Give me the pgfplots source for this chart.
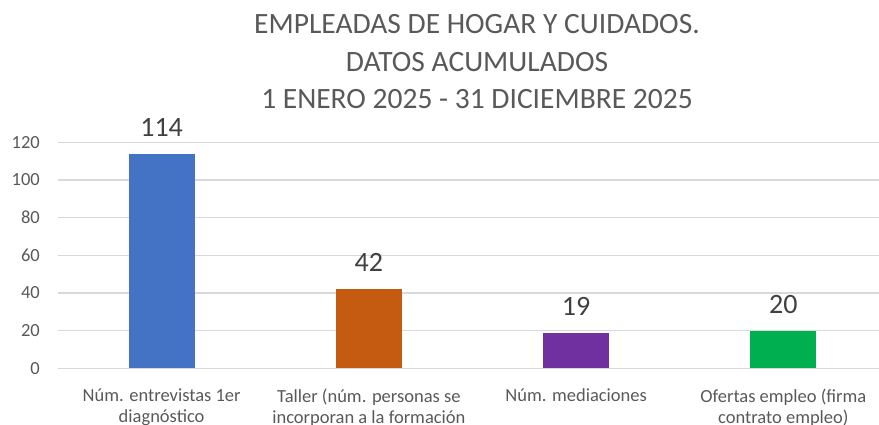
\documentclass[border=0pt]{standalone}
\usepackage{fontspec}
\setmainfont{Carlito}
\usepackage{pgfplots}
\pgfplotsset{compat=1.18}
\definecolor{cblue}{HTML}{4472C4}
\definecolor{corange}{HTML}{C55A11}
\definecolor{cpurple}{HTML}{7030A0}
\definecolor{cgreen}{HTML}{00B050}
\definecolor{tgray}{HTML}{595959}
\definecolor{lgray}{HTML}{404040}
\definecolor{gridgray}{HTML}{D9D9D9}
\begin{document}
\begin{tikzpicture}
\useasboundingbox (0,0) rectangle (879bp,425bp);
\begin{scope}[every node/.style={font=\fontsize{29.5bp}{36bp}\selectfont, text=tgray, anchor=base, inner sep=0pt}]
\node at (477bp,391bp) {EMPLEADAS DE HOGAR Y CUIDADOS.};
\node at (477bp,353.3bp) {DATOS ACUMULADOS};
\node at (477bp,316.7bp) {1 ENERO 2025 - 31 DICIEMBRE 2025};
\end{scope}
\begin{axis}[
  at={(58bp,56.7bp)}, anchor=south west,
  scale only axis, width=829bp, height=226bp,
  xmin=-0.5, xmax=3.5, ymin=0, ymax=120,
  ytick={0,20,...,120},
  xtick={0,1,2,3},
  xticklabels={{Núm. entrevistas 1er\\diagnóstico},{Taller (núm. personas se\\incorporan a la formación},{Núm. mediaciones},{Ofertas empleo (firma\\contrato empleo)}},
  /pgf/number format/assume math mode=true,
  axis line style={draw=none},
  tick style={draw=none},
  ymajorgrids,
  major grid style={draw=gridgray, line width=1.3bp},
  yticklabel style={font=\fontsize{18.5bp}{22bp}\selectfont, text=tgray, anchor=east, inner sep=0pt, xshift=-18bp},
  xticklabel style={font=\fontsize{18.5bp}{21bp}\selectfont, text=tgray, align=center, anchor=north, inner sep=0pt, yshift=-16bp},
  ybar, bar width=66bp,
  nodes near coords,
  every node near coord/.append style={font=\fontsize{28bp}{34bp}\selectfont, text=lgray, anchor=base, inner sep=0pt, yshift=17.5bp},
  clip=false,
]
\addplot[fill=cblue, draw=none, bar shift=0pt] coordinates {(0,114)};
\addplot[fill=corange, draw=none, bar shift=0pt] coordinates {(1,42)};
\addplot[fill=cpurple, draw=none, bar shift=0pt] coordinates {(2,19)};
\addplot[fill=cgreen, draw=none, bar shift=0pt] coordinates {(3,20)};
\end{axis}
\end{tikzpicture}
\end{document}
